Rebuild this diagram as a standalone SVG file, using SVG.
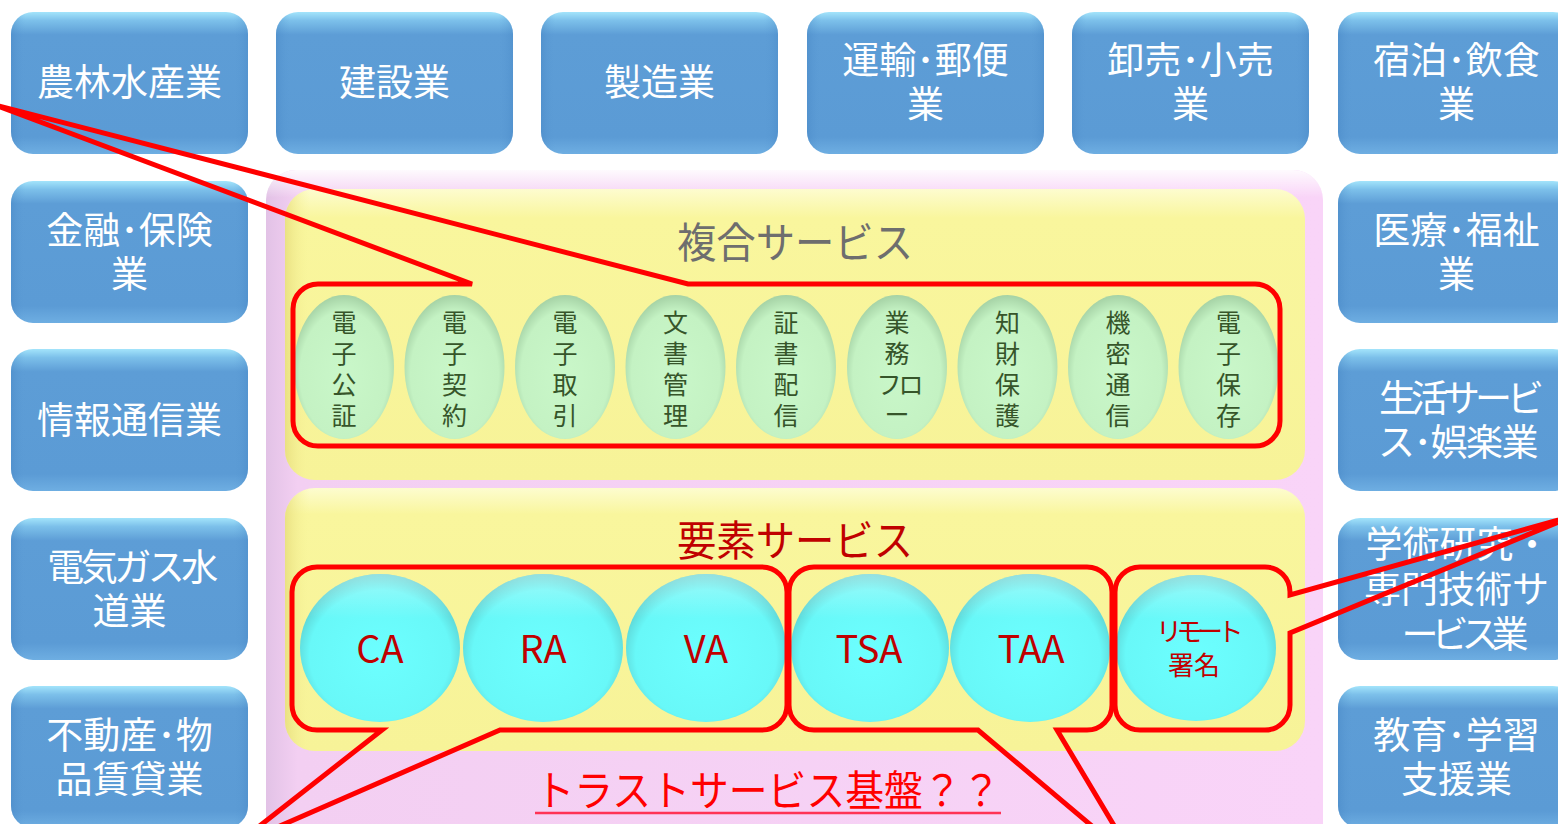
<svg xmlns="http://www.w3.org/2000/svg" width="1558" height="824" viewBox="0 0 1558 824">
<defs>
<linearGradient id="gBlue" x1="0" y1="0" x2="0" y2="1">
<stop offset="0" stop-color="#a3e4fb"/>
<stop offset="0.06" stop-color="#7cc0ea"/>
<stop offset="0.16" stop-color="#5d9dd6"/>
<stop offset="0.88" stop-color="#5b9bd5"/>
<stop offset="1" stop-color="#6eaee2"/>
</linearGradient>
<linearGradient id="gBlueSide" x1="0" y1="0" x2="1" y2="0">
<stop offset="0" stop-color="#3f7fbf" stop-opacity="0.35"/>
<stop offset="0.06" stop-color="#5b9bd5" stop-opacity="0"/>
<stop offset="0.94" stop-color="#5b9bd5" stop-opacity="0"/>
<stop offset="1" stop-color="#3f7fbf" stop-opacity="0.3"/>
</linearGradient>
<linearGradient id="gPink" x1="0" y1="0" x2="1" y2="0">
<stop offset="0" stop-color="#e2c2e6"/>
<stop offset="0.03" stop-color="#f3cff2"/>
<stop offset="1" stop-color="#f9d4f8"/>
</linearGradient>
<linearGradient id="gPinkTop" x1="0" y1="0" x2="0" y2="1">
<stop offset="0" stop-color="#ffffff" stop-opacity="0.9"/>
<stop offset="0.04" stop-color="#ffffff" stop-opacity="0"/>
<stop offset="1" stop-color="#ffffff" stop-opacity="0"/>
</linearGradient>
<linearGradient id="gYellow" x1="0" y1="0" x2="0" y2="1">
<stop offset="0" stop-color="#fdfccf"/>
<stop offset="0.1" stop-color="#f9f69d"/>
<stop offset="1" stop-color="#f7f398"/>
</linearGradient>
<linearGradient id="gYellowSide" x1="0" y1="0" x2="1" y2="0">
<stop offset="0" stop-color="#e6dc7c" stop-opacity="0.8"/>
<stop offset="0.025" stop-color="#f9f69d" stop-opacity="0"/>
<stop offset="1" stop-color="#f9f69d" stop-opacity="0"/>
</linearGradient>
<radialGradient id="gCyan" cx="0.5" cy="0.55" r="0.55">
<stop offset="0" stop-color="#6cffff"/>
<stop offset="0.8" stop-color="#68f8f8"/>
<stop offset="1" stop-color="#5ccfcf"/>
</radialGradient>
<linearGradient id="gCyanHi" x1="0" y1="0" x2="0" y2="1">
<stop offset="0" stop-color="#ffffff" stop-opacity="0.35"/>
<stop offset="0.3" stop-color="#ffffff" stop-opacity="0"/>
</linearGradient>
<radialGradient id="gGreen" cx="0.5" cy="0.55" r="0.55">
<stop offset="0" stop-color="#c9f7c9"/>
<stop offset="0.8" stop-color="#c4f2c3"/>
<stop offset="1" stop-color="#a5d2a5"/>
</radialGradient>
</defs>
<style>
.box{fill:url(#gBlue);}
.boxs{fill:url(#gBlueSide);}
.bt{font-family:"Noto Sans CJK JP","Noto Sans",sans-serif;font-size:37px;fill:#ffffff;text-anchor:middle;}
.gt{font-family:"Noto Sans CJK JP",sans-serif;font-size:25px;fill:#36552a;text-anchor:middle;}
.gv{font-family:"Noto Sans CJK JP",sans-serif;font-size:25px;fill:#36552a;text-anchor:middle;writing-mode:vertical-rl;letter-spacing:6px;}
.ct{font-family:"Noto Sans CJK JP","Noto Sans",sans-serif;font-size:38px;fill:#c00000;text-anchor:middle;}
.cy{fill:url(#gCyan);}
.cyh{fill:url(#gCyanHi);}
.gr{fill:url(#gGreen);}
.red{fill:none;stroke:#ff0000;stroke-width:5;stroke-linejoin:miter;}
.title{font-family:"Noto Sans CJK JP",sans-serif;font-size:42px;text-anchor:middle;}
</style>
<rect width="1558" height="824" fill="#ffffff"/>

<!-- industry boxes -->
<g id="b-nourin"><rect class="box" x="11" y="12" width="237" height="142" rx="22"/><rect class="boxs" x="11" y="12" width="237" height="142" rx="22"/><text class="bt" x="129.5" y="96">農林水産業</text></g>
<g id="b-kensetsu"><rect class="box" x="276" y="12" width="237" height="142" rx="22"/><rect class="boxs" x="276" y="12" width="237" height="142" rx="22"/><text class="bt" x="394.5" y="96">建設業</text></g>
<g id="b-seizou"><rect class="box" x="541" y="12" width="237" height="142" rx="22"/><rect class="boxs" x="541" y="12" width="237" height="142" rx="22"/><text class="bt" x="659.5" y="96">製造業</text></g>
<g id="b-unyu"><rect class="box" x="807" y="12" width="237" height="142" rx="22"/><rect class="boxs" x="807" y="12" width="237" height="142" rx="22"/><text class="bt" x="925.5" y="74">運輸･郵便</text><text class="bt" x="925.5" y="118">業</text></g>
<g id="b-oroshi"><rect class="box" x="1072" y="12" width="237" height="142" rx="22"/><rect class="boxs" x="1072" y="12" width="237" height="142" rx="22"/><text class="bt" x="1190.5" y="74">卸売･小売</text><text class="bt" x="1190.5" y="118">業</text></g>
<g id="b-shukuhaku"><rect class="box" x="1338" y="12" width="237" height="142" rx="22"/><rect class="boxs" x="1338" y="12" width="237" height="142" rx="22"/><text class="bt" x="1456.5" y="74">宿泊･飲食</text><text class="bt" x="1456.5" y="118">業</text></g>

<g id="b-kinyu"><rect class="box" x="11" y="181" width="237" height="142" rx="22"/><rect class="boxs" x="11" y="181" width="237" height="142" rx="22"/><text class="bt" x="129.5" y="244">金融･保険</text><text class="bt" x="129.5" y="288">業</text></g>
<g id="b-joho"><rect class="box" x="11" y="349" width="237" height="142" rx="22"/><rect class="boxs" x="11" y="349" width="237" height="142" rx="22"/><text class="bt" x="129.5" y="434">情報通信業</text></g>
<g id="b-denki"><rect class="box" x="11" y="518" width="237" height="142" rx="22"/><rect class="boxs" x="11" y="518" width="237" height="142" rx="22"/><text class="bt" x="131" y="581" style="letter-spacing:-3.5px">電気ガス水</text><text class="bt" x="129.5" y="625">道業</text></g>
<g id="b-fudousan"><rect class="box" x="11" y="686" width="237" height="142" rx="22"/><rect class="boxs" x="11" y="686" width="237" height="142" rx="22"/><text class="bt" x="129.5" y="749">不動産･物</text><text class="bt" x="129.5" y="793">品賃貸業</text></g>

<g id="b-iryo"><rect class="box" x="1338" y="181" width="237" height="142" rx="22"/><rect class="boxs" x="1338" y="181" width="237" height="142" rx="22"/><text class="bt" x="1456.5" y="244">医療･福祉</text><text class="bt" x="1456.5" y="288">業</text></g>
<g id="b-seikatsu"><rect class="box" x="1338" y="349" width="237" height="142" rx="22"/><rect class="boxs" x="1338" y="349" width="237" height="142" rx="22"/><text class="bt" x="1459" y="412" style="letter-spacing:-5px">生活サービ</text><text class="bt" x="1457.5" y="456" style="letter-spacing:-1.5px">ス･娯楽業</text></g>
<g id="b-gakujutsu"><rect class="box" x="1338" y="518" width="237" height="142" rx="22"/><rect class="boxs" x="1338" y="518" width="237" height="142" rx="22"/><text class="bt" x="1458" y="558">学術研究・</text><text class="bt" x="1456.5" y="603">専門技術サ</text><text class="bt" x="1461.5" y="648" style="letter-spacing:-7px">ービス業</text></g>
<g id="b-kyoiku"><rect class="box" x="1338" y="686" width="237" height="142" rx="22"/><rect class="boxs" x="1338" y="686" width="237" height="142" rx="22"/><text class="bt" x="1456.5" y="749">教育･学習</text><text class="bt" x="1456.5" y="793">支援業</text></g>

<!-- trust service platform -->
<g id="platform">
<rect x="266" y="170" width="1057" height="690" rx="30" fill="url(#gPink)"/>
<rect x="266" y="170" width="1057" height="690" rx="30" fill="url(#gPinkTop)"/>
<text class="title" x="768" y="806" fill="#ff0000" textLength="465" lengthAdjust="spacingAndGlyphs">トラストサービス基盤？？</text>
<line x1="535" y1="813" x2="1001" y2="813" stroke="#ff3355" stroke-width="2.5"/>
</g>

<g id="composite">
<rect x="285" y="189" width="1020" height="291" rx="30" fill="url(#gYellow)"/>
<rect x="285" y="189" width="1020" height="291" rx="30" fill="url(#gYellowSide)"/>
<text class="title" x="795" y="258" fill="#6e6e6e" textLength="236" lengthAdjust="spacingAndGlyphs">複合サービス</text>
</g>

<g id="element">
<rect x="285" y="488" width="1020" height="263" rx="30" fill="url(#gYellow)"/>
<rect x="285" y="488" width="1020" height="263" rx="30" fill="url(#gYellowSide)"/>
<text class="title" x="795" y="556" fill="#c00000" textLength="236" lengthAdjust="spacingAndGlyphs">要素サービス</text>
</g>

<!-- composite services -->
<g id="s-koushou"><ellipse class="gr" cx="344" cy="367" rx="50" ry="72"/><text class="gv" x="344" y="372">電子公証</text></g>
<g id="s-keiyaku"><ellipse class="gr" cx="454.5" cy="367" rx="50" ry="72"/><text class="gv" x="454.5" y="372">電子契約</text></g>
<g id="s-torihiki"><ellipse class="gr" cx="565" cy="367" rx="50" ry="72"/><text class="gv" x="565" y="372">電子取引</text></g>
<g id="s-bunsho"><ellipse class="gr" cx="675.5" cy="367" rx="50" ry="72"/><text class="gv" x="675.5" y="372">文書管理</text></g>
<g id="s-shousho"><ellipse class="gr" cx="786" cy="367" rx="50" ry="72"/><text class="gv" x="786" y="372">証書配信</text></g>
<g id="s-gyomu"><ellipse class="gr" cx="897" cy="367" rx="50" ry="72"/><text class="gv" x="897" y="341">業務</text><text class="gt" x="898.5" y="394" style="letter-spacing:-3px">フロ</text><text class="gt" x="897" y="424">ー</text></g>
<g id="s-chizai"><ellipse class="gr" cx="1007.5" cy="367" rx="50" ry="72"/><text class="gv" x="1007.5" y="372">知財保護</text></g>
<g id="s-kimitsu"><ellipse class="gr" cx="1118" cy="367" rx="50" ry="72"/><text class="gv" x="1118" y="372">機密通信</text></g>
<g id="s-hozon"><ellipse class="gr" cx="1228.5" cy="367" rx="50" ry="72"/><text class="gv" x="1228.5" y="372">電子保存</text></g>

<!-- element services -->
<g id="e-ca"><ellipse class="cy" cx="380" cy="648" rx="80" ry="74"/><ellipse class="cyh" cx="380" cy="648" rx="80" ry="74"/><text class="ct" x="380" y="663">CA</text></g>
<g id="e-ra"><ellipse class="cy" cx="543" cy="648" rx="80" ry="74"/><ellipse class="cyh" cx="543" cy="648" rx="80" ry="74"/><text class="ct" x="543" y="663">RA</text></g>
<g id="e-va"><ellipse class="cy" cx="706" cy="648" rx="80" ry="74"/><ellipse class="cyh" cx="706" cy="648" rx="80" ry="74"/><text class="ct" x="706" y="663">VA</text></g>
<g id="e-tsa"><ellipse class="cy" cx="870" cy="648" rx="79" ry="74"/><ellipse class="cyh" cx="870" cy="648" rx="79" ry="74"/><text class="ct" x="869" y="663">TSA</text></g>
<g id="e-taa"><ellipse class="cy" cx="1030" cy="648" rx="80" ry="74"/><ellipse class="cyh" cx="1030" cy="648" rx="80" ry="74"/><text class="ct" x="1031" y="663">TAA</text></g>
<g id="e-remote"><ellipse class="cy" cx="1196" cy="648" rx="80" ry="73"/><ellipse class="cyh" cx="1196" cy="648" rx="80" ry="73"/><text class="ct" x="1197" y="641" style="font-size:26px;letter-spacing:-5.5px">リモート</text><text class="ct" x="1194" y="675" style="font-size:26px">署名</text></g>

<!-- callouts -->
<g id="connectors">
<path class="red" d="M472,284 L318,284 A25,25 0 0 0 293,309 L293,421 A25,25 0 0 0 318,446 L1255,446 A25,25 0 0 0 1280,421 L1280,309 A25,25 0 0 0 1255,284 L688,284 L-5,105 Z"/>
<path class="red" d="M500,730 L762,730 A25,25 0 0 0 787,705 L787,592 A25,25 0 0 0 762,567 L317,567 A25,25 0 0 0 292,592 L292,705 A25,25 0 0 0 317,730 L382,730 L234,846 Z"/>
<path class="red" d="M1057,730 L1087,730 A25,25 0 0 0 1112,705 L1112,592 A25,25 0 0 0 1087,567 L814,567 A25,25 0 0 0 789,592 L789,705 A25,25 0 0 0 814,730 L978,730 L1137,864 Z"/>
<path class="red" d="M1290,633 L1290,705 A25,25 0 0 1 1265,730 L1140,730 A25,25 0 0 1 1115,705 L1115,592 A25,25 0 0 1 1140,567 L1265,567 A25,25 0 0 1 1290,592 L1290,595 L1573,516 Z"/>
</g>
</svg>
